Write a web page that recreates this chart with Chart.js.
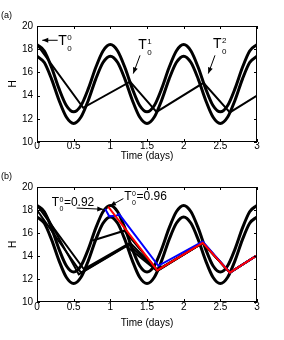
<!DOCTYPE html>
<html>
<head>
<meta charset="utf-8">
<script src="https://cdn.jsdelivr.net/npm/chart.js@4/dist/chart.umd.min.js"></script>
<style>
  body { margin: 0; background: #fff; width: 284px; height: 340px; position: relative; overflow: hidden; font-family: 'Liberation Sans', Arial, sans-serif; }
  .panel { position: absolute; left: 0; width: 284px; height: 170px; }
  .tag { position: absolute; left: 1px; font-size: 9px; line-height: 10px; color: #000; }
</style>
</head>
<body>
<div class="panel" style="top:0"><canvas id="chart_a" width="284" height="170"></canvas></div>
<div class="panel" style="top:170px"><canvas id="chart_b" width="284" height="170"></canvas></div>
<div class="tag" style="top:10px">(a)</div>
<div class="tag" style="top:171px">(b)</div>
<script>
// time axis of the two threshold curves (days)
const timeGrid = [0, 0.1, 0.2, 0.3, 0.4, 0.5, 0.6, 0.7, 0.8, 0.9, 1, 1.1, 1.2, 1.3, 1.4, 1.5, 1.6, 1.7, 1.8, 1.9, 2, 2.1, 2.2, 2.3, 2.4, 2.5, 2.6, 2.7, 2.8, 2.9, 3]
const upperThreshold = [18.4, 17.85, 16.4, 14.6, 13.15, 12.6, 13.15, 14.6, 16.4, 17.85, 18.4, 17.85, 16.4, 14.6, 13.15, 12.6, 13.15, 14.6, 16.4, 17.85, 18.4, 17.85, 16.4, 14.6, 13.15, 12.6, 13.15, 14.6, 16.4, 17.85, 18.4]
const lowerThreshold = [17.4, 16.85, 15.4, 13.6, 12.15, 11.6, 12.15, 13.6, 15.4, 16.85, 17.4, 16.85, 15.4, 13.6, 12.15, 11.6, 12.15, 13.6, 15.4, 16.85, 17.4, 16.85, 15.4, 13.6, 12.15, 11.6, 12.15, 13.6, 15.4, 16.85, 17.4]

// panel (a) trajectory
const trajTimesA = [0, 0.63, 1.27, 1.63, 2.27, 2.63, 3]
const trajValuesA = [18.4, 12.95, 15.2, 12.6, 15.1, 12.55, 14.0]

// panel (b) black trajectories
const blackTimes1 = [0, 0.64, 1.27, 1.64, 2.26, 2.63, 3]
const blackValues1 = [18.4, 12.85, 15.15, 12.75, 15.15, 12.55, 14.05]
const blackTimes2 = [0, 0.6, 1.25, 1.64, 2.26, 2.63, 3]
const blackValues2 = [18.0, 12.55, 15.0, 12.72, 15.15, 12.55, 14.05]
const blackTimes3 = [0.1, 0.57, 1.22, 1.64, 2.26, 2.63, 3]
const blackValues3 = [17.85, 12.4, 14.85, 12.7, 15.15, 12.55, 14.05]
const blackTimes4 = [0.76, 1.19, 1.64, 2.26, 2.63, 3]
const blackValues4 = [15.35, 16.2, 12.8, 15.15, 12.55, 14.05]

// panel (b) coloured trajectories, T0 = 0.92 and T0 = 0.96
const blueTimes = [0.93, 0.985, 1.08, 1.12, 1.655, 2.26, 2.63, 3]
const blueValues = [18.1, 17.45, 17.5, 17.65, 13.15, 15.25, 12.55, 14.05]
const redTimes = [0.97, 1.64, 2.26, 2.63, 3]
const redValues = [18.3, 12.75, 15.15, 12.55, 14.05]

const xTicks = [0, 0.5, 1, 1.5, 2, 2.5, 3]
const yTicks = [10, 12, 14, 16, 18, 20]

const FONT = '"Liberation Sans", Arial, sans-serif'

function points (times, values) {
  return times.map((t, i) => ({ x: t, y: values[i] }))
}

// chart.js paints lower "order" on top, so thresholds get the highest
function thresholdSets () {
  return [
    { data: points(timeGrid, upperThreshold), borderColor: '#000', borderWidth: 3, cubicInterpolationMode: 'monotone', order: 10 },
    { data: points(timeGrid, lowerThreshold), borderColor: '#000', borderWidth: 3, cubicInterpolationMode: 'monotone', order: 10 }
  ]
}

function trajSet (times, values, color, order) {
  return { data: points(times, values), borderColor: color, borderWidth: 2, tension: 0, order }
}

// box round the axes with inward ticks, matlab style
const frameTicks = {
  id: 'frameTicks',
  afterDatasetsDraw (chart) {
    const { ctx, chartArea: a, scales: { x, y } } = chart
    ctx.save()
    ctx.strokeStyle = '#000'
    ctx.lineWidth = 1
    ctx.strokeRect(a.left + 0.5, a.top + 0.5, a.right - a.left - 1, a.bottom - a.top - 1)
    ctx.beginPath()
    x.ticks.forEach(t => {
      const px = Math.round(x.getPixelForValue(t.value)) + 0.5
      ctx.moveTo(px, a.bottom); ctx.lineTo(px, a.bottom - 3)
      ctx.moveTo(px, a.top); ctx.lineTo(px, a.top + 3)
    })
    y.ticks.forEach(t => {
      const py = Math.round(y.getPixelForValue(t.value)) + 0.5
      ctx.moveTo(a.left, py); ctx.lineTo(a.left + 3, py)
      ctx.moveTo(a.right, py); ctx.lineTo(a.right - 3, py)
    })
    ctx.stroke()
    ctx.restore()
  }
}

function arrow (ctx, x0, y0, x1, y1) {
  const ang = Math.atan2(y1 - y0, x1 - x0)
  ctx.beginPath()
  ctx.moveTo(x0, y0)
  ctx.lineTo(x1, y1)
  ctx.stroke()
  ctx.beginPath()
  ctx.moveTo(x1, y1)
  ctx.lineTo(x1 - 6 * Math.cos(ang) + 2.5 * Math.sin(ang), y1 - 6 * Math.sin(ang) - 2.5 * Math.cos(ang))
  ctx.lineTo(x1 - 6 * Math.cos(ang) - 2.5 * Math.sin(ang), y1 - 6 * Math.sin(ang) + 2.5 * Math.cos(ang))
  ctx.closePath()
  ctx.fill()
}

// T with sub/superscript, then optional tail text; positions in data units
function labelPlugin (labels, sizes) {
  return {
    id: 'tLabels',
    afterDraw (chart) {
      const { ctx, scales: { x, y } } = chart
      ctx.save()
      ctx.fillStyle = '#000'
      ctx.strokeStyle = '#000'
      ctx.lineWidth = 1
      ctx.textBaseline = 'alphabetic'
      labels.forEach(l => {
        const px = x.getPixelForValue(l.t)
        const py = y.getPixelForValue(l.h)
        ctx.font = `${sizes.big}px ${FONT}`
        ctx.fillText('T', px, py)
        const w = ctx.measureText('T').width
        ctx.font = `${sizes.small}px ${FONT}`
        ctx.fillText(l.sup, px + w + 0.5, py - sizes.up)
        ctx.fillText('0', px + w + 0.5, py + sizes.down)
        const sw = Math.max(ctx.measureText(l.sup).width, ctx.measureText('0').width)
        if (l.tail) {
          ctx.font = `${sizes.tail}px ${FONT}`
          ctx.fillText(l.tail, px + w + sw + 1, py)
        }
        arrow(ctx, x.getPixelForValue(l.from[0]), y.getPixelForValue(l.from[1]),
          x.getPixelForValue(l.to[0]), y.getPixelForValue(l.to[1]))
      })
      ctx.restore()
    }
  }
}

function makeOptions (cfg) {
  return {
    responsive: false,
    animation: false,
    events: [],
    layout: { padding: { top: cfg.top, right: 27, left: 0, bottom: 0 } },
    elements: { point: { radius: 0 } },
    plugins: { legend: { display: false }, tooltip: { enabled: false } },
    scales: {
      x: {
        type: 'linear',
        min: 0,
        max: 3,
        afterFit: s => { s.height = cfg.xHeight },
        afterBuildTicks: s => { s.ticks = xTicks.map(v => ({ value: v })) },
        grid: { display: false, drawTicks: false },
        border: { display: false },
        ticks: { color: '#000', font: { family: FONT, size: 10 }, padding: cfg.xPad, maxRotation: 0, autoSkip: false, callback: v => String(v) },
        title: { display: true, text: 'Time (days)', color: '#000', font: { family: FONT, size: 10 }, padding: { top: 0, bottom: cfg.titlePad } }
      },
      y: {
        min: 10,
        max: 20,
        afterFit: s => { s.width = 37 },
        afterBuildTicks: s => { s.ticks = yTicks.map(v => ({ value: v })) },
        grid: { display: false, drawTicks: false },
        border: { display: false },
        ticks: { color: '#000', font: { family: FONT, size: 10 }, padding: 4, callback: v => String(v) },
        title: { display: true, text: 'H', color: '#000', font: { family: FONT, size: 10 }, padding: { top: 7, bottom: 0 } }
      }
    }
  }
}

const labelsA = [
  { t: 0.29, h: 18.34, sup: '0', from: [0.282, 18.77], to: [0.072, 18.77] },
  { t: 1.38, h: 18.05, sup: '1', from: [1.405, 17.47], to: [1.313, 15.9] },
  { t: 2.4, h: 18.08, sup: '2', from: [2.427, 17.47], to: [2.336, 15.9] }
]
const labelsB = [
  { t: 0.2, h: 18.35, sup: '0', tail: '=0.92', from: [0.541, 18.17], to: [0.904, 18.06] },
  { t: 1.19, h: 18.84, sup: '0', tail: '=0.96', from: [1.177, 18.99], to: [0.995, 18.35] }
]

new Chart(document.getElementById('chart_a'), {
  type: 'line',
  data: {
    datasets: [...thresholdSets(), trajSet(trajTimesA, trajValuesA, '#000', 5)]
  },
  options: makeOptions({ top: 26, xHeight: 28, xPad: -2, titlePad: 8 }),
  plugins: [frameTicks, labelPlugin(labelsA, { big: 14, small: 8, tail: 12, up: 5, down: 6 })]
})

new Chart(document.getElementById('chart_b'), {
  type: 'line',
  data: {
    datasets: [
      ...thresholdSets(),
      trajSet(blackTimes1, blackValues1, '#000', 5),
      trajSet(blackTimes2, blackValues2, '#000', 5),
      trajSet(blackTimes3, blackValues3, '#000', 5),
      trajSet(blackTimes4, blackValues4, '#000', 5),
      trajSet(blueTimes, blueValues, '#0000ff', 2),
      trajSet(redTimes, redValues, '#ff0000', 1)
    ]
  },
  options: makeOptions({ top: 17, xHeight: 38, xPad: -1, titlePad: 11 }),
  plugins: [frameTicks, labelPlugin(labelsB, { big: 12, small: 7, tail: 12, up: 4, down: 5 })]
})
</script>
</body>
</html>
